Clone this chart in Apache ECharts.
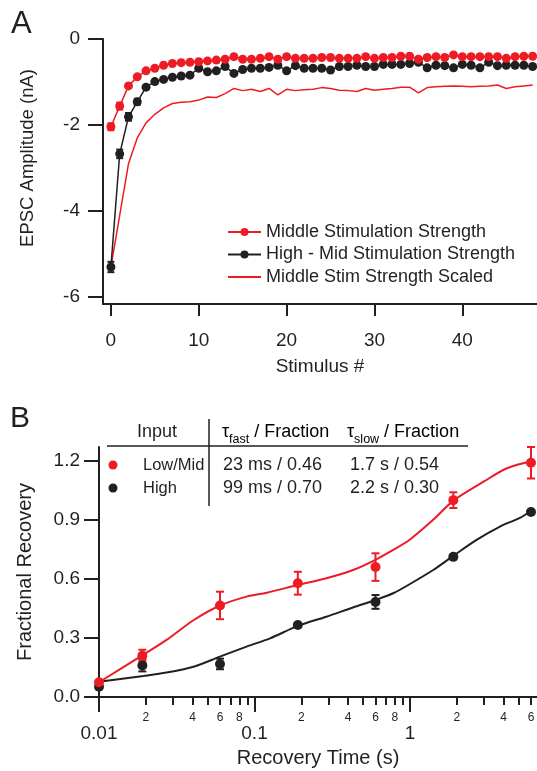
<!DOCTYPE html>
<html>
<head>
<meta charset="utf-8">
<script src="https://cdn.jsdelivr.net/npm/echarts@6/dist/echarts.min.js"></script>
<style>
  html, body { margin: 0; padding: 0; background: #fff; }
  #chart { width: 537px; height: 771px; }
</style>
</head>
<body>
<div id="chart"></div>
<script>
// ---- panel A : EPSC amplitude vs stimulus number ----
const stimulus = [0,1,2,3,4,5,6,7,8,9,10,11,12,13,14,15,16,17,18,19,20,21,22,23,24,25,26,27,28,29,30,31,32,33,34,35,36,37,38,39,40,41,42,43,44,45,46,47,48];
const midStim = [-2.04,-1.56,-1.09,-0.88,-0.74,-0.68,-0.61,-0.57,-0.55,-0.54,-0.53,-0.51,-0.49,-0.47,-0.41,-0.47,-0.47,-0.45,
  -0.41,-0.47,-0.41,-0.45,-0.45,-0.45,-0.43,-0.43,-0.45,-0.45,-0.45,-0.41,-0.45,-0.43,-0.43,-0.40,-0.40,-0.47,-0.43,-0.41,-0.43,-0.37,-0.41,-0.41,-0.41,-0.41,-0.41,-0.45,-0.41,-0.40,-0.40];
const midStimErr = [0.08,0.08,0.04,0.02];
const highMid = [-5.3,-2.67,-1.81,-1.46,-1.12,-0.99,-0.94,-0.89,-0.86,-0.84,-0.68,-0.76,-0.74,-0.64,-0.80,-0.71,-0.68,-0.68,
  -0.66,-0.61,-0.74,-0.62,-0.68,-0.68,-0.68,-0.72,-0.64,-0.64,-0.61,-0.64,-0.64,-0.59,-0.59,-0.59,-0.57,-0.54,-0.67,-0.61,-0.62,-0.67,-0.59,-0.61,-0.67,-0.54,-0.62,-0.61,-0.61,-0.61,-0.64];
const highMidErr = [0.12,0.1,0.09,0.07,0.04];
const midScaled = [-5.3,-4.1,-2.9,-2.3,-1.95,-1.75,-1.6,-1.5,-1.47,-1.46,-1.42,-1.35,-1.36,-1.27,-1.15,-1.2,-1.17,-1.22,
  -1.15,-1.30,-1.17,-1.20,-1.18,-1.17,-1.13,-1.15,-1.19,-1.20,-1.22,-1.15,-1.19,-1.17,-1.15,-1.12,-1.12,-1.25,-1.13,-1.11,-1.10,-1.09,-1.10,-1.11,-1.10,-1.09,-1.07,-1.15,-1.11,-1.09,-1.07];
const ticksAX = [0, 10, 20, 30, 40];
const ticksAY = [-6, -4, -2, 0];

// ---- panel B : fractional recovery vs recovery time ----
const recTime = [0.01, 0.019, 0.06, 0.19, 0.6, 1.9, 6];
const lowMidRec = [0.075, 0.21, 0.465, 0.578, 0.66, 1.0, 1.19];
const lowMidErr = [0.01, 0.03, 0.07, 0.058, 0.07, 0.04, 0.08];
const highRec = [0.052, 0.16, 0.168, 0.366, 0.483, 0.712, 0.94];
const highErr = [0.01, 0.03, 0.027, 0.01, 0.035, 0.01, 0.01];
// fitted curves
const lowMidFitTime = [0.01, 0.0193, 0.0272, 0.0405, 0.06, 0.089, 0.12, 0.19, 0.29, 0.43, 0.6, 0.78, 1.0, 1.41, 1.92, 2.99, 4.2, 6];
const lowMidFit = [0.075, 0.215, 0.29, 0.39, 0.465, 0.51, 0.53, 0.569, 0.603, 0.645, 0.697, 0.747, 0.80, 0.90, 1.0, 1.095, 1.162, 1.196];
const highFitTime = [0.01, 0.0193, 0.0272, 0.0405, 0.06, 0.089, 0.126, 0.19, 0.29, 0.43, 0.6, 0.78, 1.0, 1.41, 1.9, 2.68, 3.79, 5.1, 6];
const highFit = [0.078, 0.107, 0.124, 0.154, 0.205, 0.256, 0.298, 0.361, 0.408, 0.455, 0.493, 0.527, 0.574, 0.645, 0.717, 0.798, 0.866, 0.91, 0.946];
const majorTicksB = [0.01, 0.1, 1];
const majorLabelsB = ['0.01', '0.1', '1'];
const minorTicksB = [0.02,0.03,0.04,0.05,0.06,0.07,0.08,0.09,0.2,0.3,0.4,0.5,0.6,0.7,0.8,0.9,2,3,4,5,6];
const minorLabelsB = [0.02,0.04,0.06,0.08,0.2,0.4,0.6,0.8,2,4,6];
const ticksBY = [0, 0.3, 0.6, 0.9, 1.2];

const tableHead = ['Input', 'fast', 'slow'];
const tableRows = [
  ['Low/Mid', '23 ms / 0.46', '1.7 s / 0.54'],
  ['High', '99 ms / 0.70', '2.2 s / 0.30']
];

const RED = '#ed1c24';
const INK = '#231f20';
const FONT = '"Liberation Sans", Arial, sans-serif';

const zip = (xs, ys) => xs.map((x, i) => [x, ys[i]]);
const errData = (xs, ys, es) => es.map((e, i) => [xs[i], ys[i] - e, ys[i] + e]);

function errorBar(color, cap) {
  return function (params, api) {
    const lo = api.coord([api.value(0), api.value(1)]);
    const hi = api.coord([api.value(0), api.value(2)]);
    const st = { stroke: color, lineWidth: 2 };
    return {
      type: 'group',
      children: [
        { type: 'line', shape: { x1: lo[0], y1: lo[1], x2: hi[0], y2: hi[1] }, style: st },
        { type: 'line', shape: { x1: lo[0] - cap, y1: lo[1], x2: lo[0] + cap, y2: lo[1] }, style: st },
        { type: 'line', shape: { x1: hi[0] - cap, y1: hi[1], x2: hi[0] + cap, y2: hi[1] }, style: st }
      ]
    };
  };
}

const axisBase = {
  axisLine: { show: true, onZero: false, lineStyle: { color: INK, width: 2 } },
  splitLine: { show: false },
  axisLabel: { color: INK, fontSize: 19, fontFamily: FONT },
  axisTick: { lineStyle: { color: INK, width: 2 } }
};

const chart = echarts.init(document.getElementById('chart'), null, { renderer: 'canvas' });

const tauHead = (sub, x) => ({
  type: 'text', x: x, y: 434,
  style: {
    text: '{t|τ}{s|' + sub + '}{t| / Fraction}', verticalAlign: 'middle',
    rich: {
      t: { fontSize: 18, fontFamily: FONT, color: INK, lineHeight: 24, verticalAlign: 'bottom', padding: [0, 0, 5, 0] },
      s: { fontSize: 12.5, fontFamily: FONT, color: INK, lineHeight: 14, verticalAlign: 'bottom' }
    }
  }
});

const graphics = [
  { type: 'text', left: 11, top: 9, style: { text: 'A', fill: INK, font: '31px ' + FONT } },
  { type: 'text', left: 10, top: 404, style: { text: 'B', fill: INK, font: '30px ' + FONT } },
  { type: 'text', x: 28, y: 158, rotation: Math.PI / 2,
    style: { text: 'EPSC Amplitude (nA)', fill: INK, font: '18.5px ' + FONT, align: 'center', verticalAlign: 'middle' } },
  // table rules
  { type: 'line', shape: { x1: 107, y1: 446, x2: 468, y2: 446 }, style: { stroke: INK, lineWidth: 1.5 } },
  { type: 'line', shape: { x1: 209, y1: 419, x2: 209, y2: 506 }, style: { stroke: INK, lineWidth: 1.5 } },
  { type: 'text', x: 157, y: 432, style: { text: tableHead[0], fill: INK, font: '18px ' + FONT, align: 'center', verticalAlign: 'middle' } },
  tauHead(tableHead[1], 222),
  tauHead(tableHead[2], 347),
  { type: 'circle', shape: { cx: 113, cy: 465, r: 4.5 }, style: { fill: RED } },
  { type: 'circle', shape: { cx: 113, cy: 488, r: 4.5 }, style: { fill: INK } }
];
tableRows.forEach((row, i) => {
  const y = 465 + i * 23;
  graphics.push({ type: 'text', x: 143, y: y, style: { text: row[0], fill: INK, font: '16.5px ' + FONT, verticalAlign: 'middle' } });
  graphics.push({ type: 'text', x: 223, y: y, style: { text: row[1], fill: INK, font: '18px ' + FONT, verticalAlign: 'middle' } });
  graphics.push({ type: 'text', x: 350, y: y, style: { text: row[2], fill: INK, font: '18px ' + FONT, verticalAlign: 'middle' } });
});

const option = {
  animation: false,
  backgroundColor: '#fff',
  textStyle: { fontFamily: FONT },
  grid: [
    { left: 103, top: 39, right: 0, height: 265, outerBoundsMode: 'none' },
    { left: 99, top: 447, right: 0, height: 250, outerBoundsMode: 'none' }
  ],
  legend: {
    left: 227, top: 223, orient: 'vertical', padding: 0, itemWidth: 33, itemHeight: 10, itemGap: 4.5,
    textStyle: { color: INK, fontSize: 18, fontFamily: FONT, lineHeight: 18 },
    data: [
      'Middle Stimulation Strength',
      'High - Mid Stimulation Strength',
      { name: 'Middle Stim Strength Scaled', itemStyle: { opacity: 0 } }
    ]
  },
  xAxis: [
    Object.assign({}, axisBase, {
      gridIndex: 0, type: 'value', min: -0.9, max: 48.5,
      name: 'Stimulus #', nameLocation: 'middle', nameGap: 53,
      nameTextStyle: { color: INK, fontSize: 19, fontFamily: FONT },
      axisTick: { length: 12, customValues: ticksAX, lineStyle: { color: INK, width: 2 } },
      axisLabel: { margin: 27, color: INK, fontSize: 19, fontFamily: FONT, customValues: ticksAX }
    }),
    Object.assign({}, axisBase, {
      gridIndex: 1, type: 'log', min: 0.01, max: 6.56,
      name: 'Recovery Time (s)', nameLocation: 'middle', nameGap: 51,
      nameTextStyle: { color: INK, fontSize: 20, fontFamily: FONT },
      axisTick: { length: 15, customValues: majorTicksB, lineStyle: { color: INK, width: 2 } },
      axisLabel: { margin: 27, color: INK, fontSize: 19, fontFamily: FONT, customValues: majorTicksB,
        formatter: v => majorLabelsB[majorTicksB.findIndex(t => Math.abs(Math.log10(t) - Math.log10(v)) < 1e-6)] || '' }
    }),
    {
      gridIndex: 1, type: 'log', min: 0.01, max: 6.56, position: 'bottom',
      axisLine: { show: false }, splitLine: { show: false },
      axisTick: { show: true, length: 8, customValues: minorTicksB, lineStyle: { color: INK, width: 2 } },
      axisLabel: { margin: 15, color: INK, fontSize: 12, fontFamily: FONT, customValues: minorLabelsB,
        formatter: v => String(Math.round(v / Math.pow(10, Math.floor(Math.log10(v) + 1e-9)))) }
    }
  ],
  yAxis: [
    Object.assign({}, axisBase, {
      gridIndex: 0, type: 'value', min: -6.16, max: 0,
      axisTick: { length: 15, customValues: ticksAY, lineStyle: { color: INK, width: 2 } },
      axisLabel: { margin: 23, color: INK, fontSize: 19, fontFamily: FONT, customValues: ticksAY }
    }),
    Object.assign({}, axisBase, {
      gridIndex: 1, type: 'value', min: 0, max: 1.27,
      name: 'Fractional Recovery', nameLocation: 'middle', nameGap: 64,
      nameTextStyle: { color: INK, fontSize: 20, fontFamily: FONT },
      axisTick: { length: 15, customValues: ticksBY, lineStyle: { color: INK, width: 2 } },
      axisLabel: { margin: 19, color: INK, fontSize: 19, fontFamily: FONT, customValues: ticksBY,
        formatter: v => v.toFixed(1) }
    })
  ],
  graphic: graphics,
  series: [
    { name: 'Middle Stim Strength Scaled', type: 'line', xAxisIndex: 0, yAxisIndex: 0,
      data: zip(stimulus, midScaled), symbol: 'none', lineStyle: { color: RED, width: 1.5 }, itemStyle: { color: RED } },
    { name: 'High - Mid Stimulation Strength', type: 'line', xAxisIndex: 0, yAxisIndex: 0,
      data: zip(stimulus, highMid), symbol: 'circle', symbolSize: 9, showAllSymbol: true,
      lineStyle: { color: INK, width: 1.5 }, itemStyle: { color: INK } },
    { name: 'Middle Stimulation Strength', type: 'line', xAxisIndex: 0, yAxisIndex: 0,
      data: zip(stimulus, midStim), symbol: 'circle', symbolSize: 9, showAllSymbol: true,
      lineStyle: { color: RED, width: 1.5 }, itemStyle: { color: RED } },
    { type: 'custom', xAxisIndex: 0, yAxisIndex: 0, renderItem: errorBar(INK, 3.5),
      data: errData(stimulus, highMid, highMidErr), z: 4 },
    { type: 'custom', xAxisIndex: 0, yAxisIndex: 0, renderItem: errorBar(RED, 3.5),
      data: errData(stimulus, midStim, midStimErr), z: 4 },

    { type: 'line', xAxisIndex: 1, yAxisIndex: 1, data: zip(highFitTime, highFit), symbol: 'none',
      smooth: 0.3, lineStyle: { color: INK, width: 2 } },
    { type: 'line', xAxisIndex: 1, yAxisIndex: 1, data: zip(lowMidFitTime, lowMidFit), symbol: 'none',
      smooth: 0.3, lineStyle: { color: RED, width: 2 } },
    { type: 'custom', xAxisIndex: 1, yAxisIndex: 1, renderItem: errorBar(INK, 4),
      data: errData(recTime, highRec, highErr), z: 4 },
    { type: 'custom', xAxisIndex: 1, yAxisIndex: 1, renderItem: errorBar(RED, 4),
      data: errData(recTime, lowMidRec, lowMidErr), z: 4 },
    { type: 'scatter', xAxisIndex: 1, yAxisIndex: 1, data: zip(recTime, highRec), symbolSize: 10,
      itemStyle: { color: INK, opacity: 1 }, z: 5 },
    { type: 'scatter', xAxisIndex: 1, yAxisIndex: 1, data: zip(recTime, lowMidRec), symbolSize: 10,
      itemStyle: { color: RED, opacity: 1 }, z: 5 }
  ]
};

chart.setOption(option);
</script>
</body>
</html>
